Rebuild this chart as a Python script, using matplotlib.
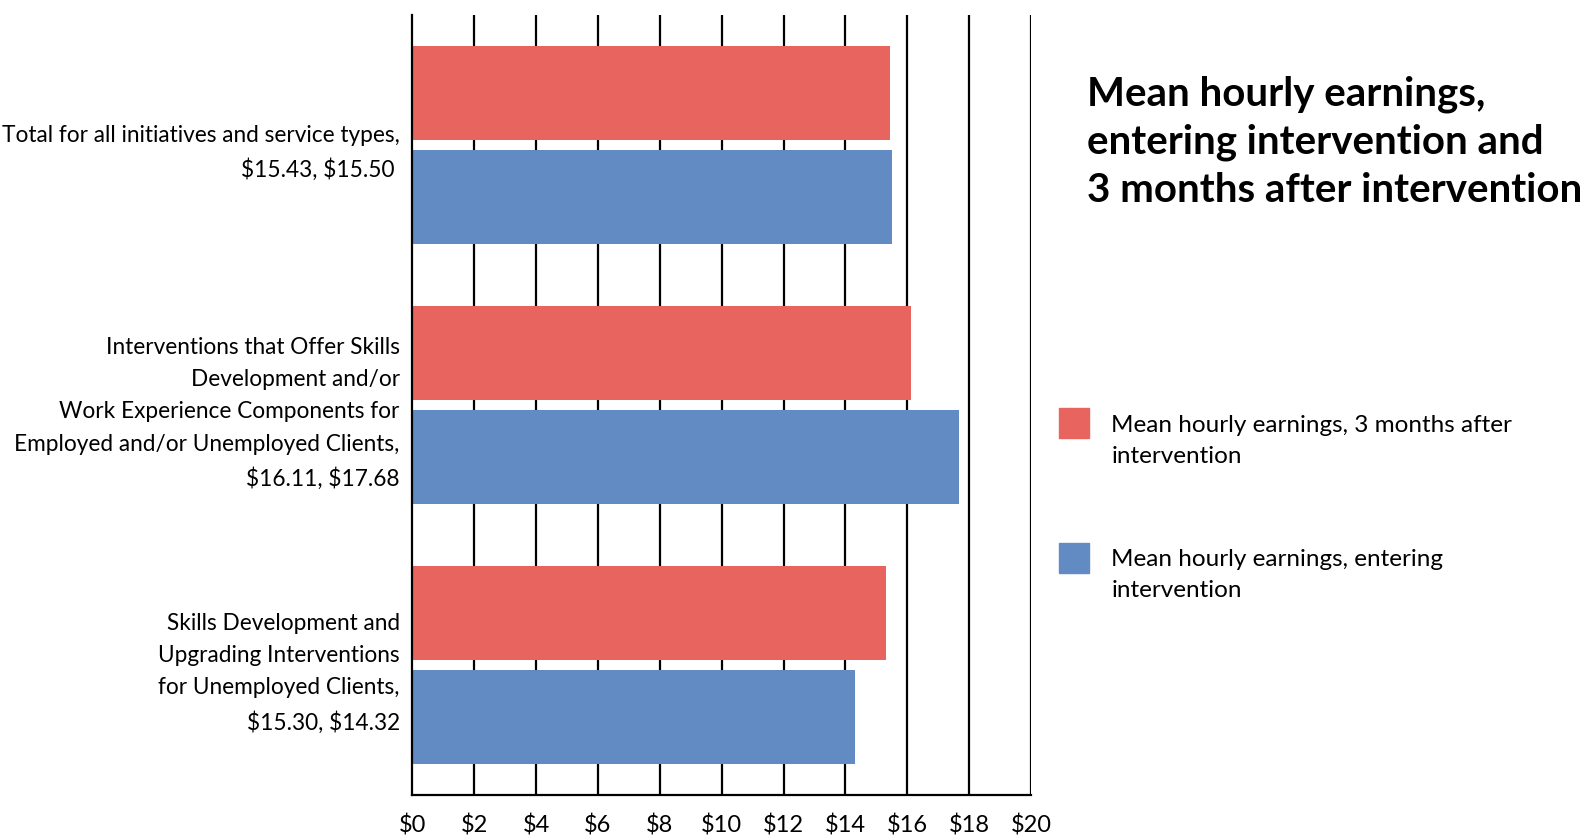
import matplotlib.pyplot as plt
from matplotlib.patches import Rectangle

plt.rcParams['font.family'] = ['Lato', 'DejaVu Sans']

# earnings per intervention group ($/hour)
groups = [
    "Total for all initiatives and service types,\n\\$15.43, \\$15.50 ",
    "Interventions that Offer Skills\nDevelopment and/or\nWork Experience Components for\nEmployed and/or Unemployed Clients,\n\\$16.11, \\$17.68",
    "Skills Development and\nUpgrading Interventions\nfor Unemployed Clients,\n\\$15.30, \\$14.32",
]
after_3m = [15.43, 16.11, 15.30]
entering = [15.50, 17.68, 14.32]
xticks = list(range(0, 21, 2))
xtick_labels = ['\\$' + str(v) for v in xticks]

series_names = ["Mean hourly earnings, 3 months after\nintervention",
                "Mean hourly earnings, entering\nintervention"]
red = '#E8645F'
blue = '#628BC4'

fig = plt.figure(figsize=(15.92, 8.36), dpi=100)
ax = fig.add_axes([0.259, 0.049, 0.3886, 0.933])

pos = list(range(len(groups)))
h = 0.36
ax.barh([p - 0.2 for p in pos], after_3m, height=h, color=red, zorder=3)
ax.barh([p + 0.2 for p in pos], entering, height=h, color=blue, zorder=3)

ax.set_ylim(2.5, -0.5)
ax.set_xlim(0, 20)
ax.set_yticks(pos)
ax.set_yticklabels(groups, fontsize=16.3, multialignment='right', linespacing=1.66)
ax.set_xticks(xticks)
ax.set_xticklabels(xtick_labels, fontsize=17)
ax.tick_params(axis='both', length=0)
ax.tick_params(axis='x', pad=14)
ax.tick_params(axis='y', pad=9)

for v in xticks[1:]:
    ax.axvline(v, color='black', lw=1.6, zorder=1)
for s in ['top', 'right']:
    ax.spines[s].set_visible(False)
for s in ['left', 'bottom']:
    ax.spines[s].set_linewidth(1.6)
    ax.spines[s].set_zorder(4)

fig.text(0.683, 0.91, "Mean hourly earnings,\nentering intervention and\n3 months after intervention",
         fontsize=29, fontweight='bold', va='top', ha='left', linespacing=1.36)

# legend drawn by hand so each swatch lines up with its first text line
for y, c, name in [(0.494, red, series_names[0]), (0.333, blue, series_names[1])]:
    fig.add_artist(Rectangle((0.665, y - 0.018), 0.0192, 0.036, transform=fig.transFigure,
                             color=c))
    fig.text(0.698, y + 0.010, name, fontsize=17.5, va='top', ha='left', linespacing=1.6)

fig.savefig('out.png', dpi=100)
